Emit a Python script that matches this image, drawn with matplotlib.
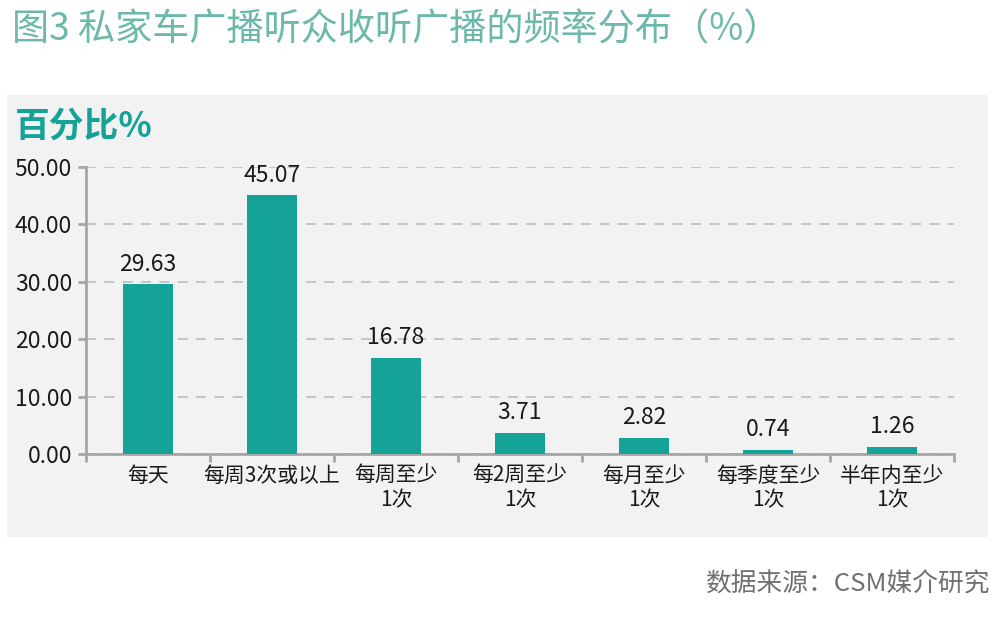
import matplotlib
matplotlib.use("Agg")
import matplotlib.pyplot as plt
from matplotlib.patches import Rectangle

plt.rcParams['font.family'] = ['Noto Sans CJK SC', 'DejaVu Sans']

categories = ["每天", "每周3次或以上", "每周至少\n1次", "每2周至少\n1次", "每月至少\n1次", "每季度至少\n1次", "半年内至少\n1次"]
values = [29.63, 45.07, 16.78, 3.71, 2.82, 0.74, 1.26]
yticks = [0, 10, 20, 30, 40, 50]

bar_color = "#14a396"
axis_color = "#a6a6a6"

fig = plt.figure(figsize=(10, 6.19), dpi=100)
bg = fig.add_axes([0, 0, 1, 1], zorder=-10)
bg.set_xlim(0, 1000)
bg.set_ylim(619, 0)
bg.axis("off")
bg.add_patch(Rectangle((7, 95), 981, 442, facecolor="#f2f2f2", edgecolor="none"))

ax = fig.add_axes([0.086, 1 - 454 / 619, 0.868, (454 - 167) / 619])
ax.set_facecolor("none")
x = list(range(len(categories)))
ax.bar(x, values, width=0.4, color=bar_color, zorder=3)
for xi, v in zip(x, values):
    ax.annotate(f"{v:.2f}", (xi, v), xytext=(0, 6), textcoords="offset points",
                ha="center", va="bottom", fontsize=16.5, color="#1a1a1a",
                fontweight="light")

ax.set_xlim(-0.5, len(categories) - 0.5)
ax.set_ylim(0, 50)
ax.set_yticks(yticks)
ax.set_yticklabels([f"{t:.2f}" for t in yticks], fontsize=16.5, color="#1a1a1a",
                   fontweight="light")
ax.yaxis.grid(True, linestyle=(0, (6, 5)), color="#bdbdbd", linewidth=1.2, zorder=0)
ax.set_axisbelow(True)

ax.set_xticks([i - 0.5 for i in range(len(categories) + 1)])
ax.set_xticklabels([])
ax.set_xticks(x, minor=True)
ax.set_xticklabels(categories, minor=True, fontsize=15, color="#1a1a1a", linespacing=1.1,
                   fontweight="light")
ax.tick_params(axis='x', which='minor', length=0, pad=8)
ax.tick_params(axis='x', which='major', length=6, width=2, color=axis_color, direction='out')
ax.tick_params(axis='y', length=6, width=2, color=axis_color, direction='out', pad=4)

for s in ['top', 'right']:
    ax.spines[s].set_visible(False)
for s in ['left', 'bottom']:
    ax.spines[s].set_color(axis_color)
    ax.spines[s].set_linewidth(2)

fig.text(0.012, 1 - 30 / 619, "图3 私家车广播听众收听广播的频率分布（%）", fontsize=26.7,
         color="#6cb8ab", va="center", ha="left", fontweight="light")
fig.text(0.015, 1 - 126 / 619, "百分比%", fontsize=25, fontweight="bold",
         color=bar_color, va="center", ha="left")
fig.text(0.99, 1 - 585 / 619, "数据来源：CSM媒介研究", fontsize=18.5,
         color="#707070", va="center", ha="right", fontweight="light")

fig.savefig("out.png", dpi=100)
